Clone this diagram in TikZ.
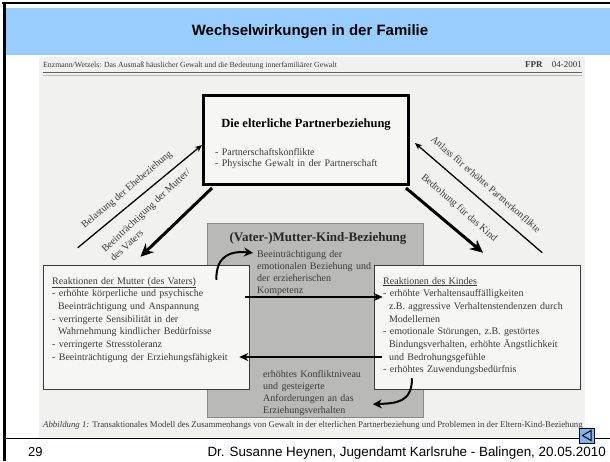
\documentclass[tikz,border=0pt]{standalone}
\usepackage{fontspec}
\setmainfont{Liberation Sans}
\newfontfamily\scanserif{Liberation Serif}
\usetikzlibrary{arrows.meta,calc}
\definecolor{fBand}{HTML}{99CCFF}
\definecolor{fPaper}{HTML}{F1F1EE}
\definecolor{fBoxFill}{HTML}{F6F6F4}
\definecolor{fShade}{HTML}{B9B9B7}
\definecolor{fInk}{HTML}{3A3A3A}
\definecolor{fIcon}{HTML}{80B4EC}

\begin{document}
\begin{tikzpicture}[x=1pt,y=-1pt,
  every node/.style={inner sep=0pt},
  scan/.style={font=\scanserif\fontsize{10}{12.7}\selectfont,text=fInk,align=left},
  pframe/.style={draw=black,line width=3pt,fill=fBoxFill,minimum width=205,minimum height=89},
  rframe/.style={draw=fInk,line width=1.5pt,fill=fBoxFill,minimum width=206,minimum height=124},
  gframe/.style={draw=fInk!60,line width=0.8pt,fill=fShade,minimum width=216,minimum height=194},
  thinarr/.style={-{Stealth[length=7pt,width=6pt]},line width=1.3pt},
  thickarr/.style={-{Stealth[length=13pt,width=12pt]},line width=3pt},
  midarr/.style={-{Stealth[length=9pt,width=8pt]},line width=1.8pt},
  curvarr/.style={-{Stealth[length=9pt,width=9pt]},line width=2pt}
]
\useasboundingbox (0,0) rectangle (610,461);
% slide frame
\fill[white] (0,0) rectangle (610,461);
\fill[fBand] (5,8) rectangle (610,55);
\draw[line width=2pt] (2,2.5) -- (610,2.5);
\draw[line width=2.5pt] (4.5,2.5) -- (4.5,461);
\fill[fPaper] (39,57) rectangle (585,437);
\draw[line width=1pt] (4.5,438) -- (610,438);

\node[font=\bfseries\fontsize{15}{18}\selectfont] (title) at (310,32) {Wechselwirkungen in der Familie};

% scanned figure
\node[scan,font=\scanserif\fontsize{7.8}{10}\selectfont,anchor=base west] (head) at (43,67)
  {Enzmann/Wetzels: Das Ausmaß häuslicher Gewalt und die Bedeutung innerfamiliärer Gewalt};
\node[scan,font=\scanserif\fontsize{9}{10}\selectfont,anchor=base east] (fpr) at (582,67) {\textbf{FPR}\quad 04-2001};
\draw[fInk!80,line width=0.9pt] (43,72.5) -- (582,72.5);
\draw[fInk!35,line width=0.6pt] (43,75) -- (582,75);

\node[gframe] (gbox) at (315,320) {};
\node[pframe] (pbox) at (306,140) {};
\node[rframe] (mbox) at (146.5,327.5) {};
\node[rframe] (kbox) at (477.5,327.5) {};

\node[scan,font=\scanserif\bfseries\fontsize{12.5}{15}\selectfont,text=black,anchor=base] (ptitle) at (306,127) {Die elterliche Partnerbeziehung};
\node[scan,text width=190,anchor=base west,font=\scanserif\fontsize{10}{11.5}\selectfont] (ptext) at (215,155)
  {- Partnerschaftskonflikte\\- Physische Gewalt in der Partnerschaft};

\node[scan,font=\scanserif\bfseries\fontsize{13}{15}\selectfont,text=black!85,anchor=base] (gtitle) at (318,241) {(Vater-)Mutter-Kind-Beziehung};
\node[scan,text width=120,anchor=base west,font=\scanserif\fontsize{10}{12.3}\selectfont] (btext) at (257,257)
  {Beeinträchtigung der\\emotionalen Beziehung und\\der erzieherischen\\Kompetenz};
\node[scan,text width=120,anchor=base west,font=\scanserif\fontsize{10}{12.3}\selectfont] (ctext) at (263,377)
  {erhöhtes Konfliktniveau\\und gesteigerte\\Anforderungen an das\\Erziehungsverhalten};

\node[scan,text width=200,anchor=base west] (mtext) at (52,284)
  {\underline{Reaktionen der Mutter (des Vaters)}\\
   - erhöhte körperliche und psychische\\
   \hspace*{0.58em}Beeinträchtigung und Anspannung\\
   - verringerte Sensibilität in der\\
   \hspace*{0.58em}Wahrnehmung kindlicher Bedürfnisse\\
   - verringerte Stresstoleranz\\
   - Beeinträchtigung der Erziehungsfähigkeit};
\node[scan,text width=195,anchor=base west] (ktext) at (383,284)
  {\underline{Reaktionen des Kindes}\\
   - erhöhte Verhaltensauffälligkeiten\\
   \hspace*{0.58em}z.B. aggressive Verhaltenstendenzen durch\\
   \hspace*{0.58em}Modellernen\\
   - emotionale Störungen, z.B. gestörtes\\
   \hspace*{0.58em}Bindungsverhalten, erhöhte Ängstlichkeit\\
   \hspace*{0.58em}und Bedrohungsgefühle\\
   - erhöhtes Zuwendungsbedürfnis};

% diagonal arrows
\draw[thinarr] ([shift={(35,-17)}]mbox.north west) -- ([yshift=-5pt]pbox.west);
\draw[thickarr] ([shift={(10,2)}]pbox.south west) -- ([shift={(-6,-8)}]mbox.north);
\draw[thinarr] ([shift={(-39,-12)}]kbox.north east) -- ([shift={(5,3)}]pbox.east);
\draw[thickarr] ([shift={(-4,2)}]pbox.south east) -- ([shift={(5.5,-12)}]kbox.north);

\node[scan,rotate=40] (lab1) at (127,190) {Belastung der Ehebeziehung};
\node[scan,rotate=43] (lab2) at (150,215) {Beeinträchtigung der Mutter/\\des Vaters};
\node[scan,rotate=-41] (lab3) at (486,184) {Anlass für erhöhte Partnerkonflikte};
\node[scan,rotate=-41] (lab4) at (459,208) {Bedrohung für das Kind};

% horizontal arrows
\draw[midarr] ([shift={(-5,-30.5)}]mbox.east) -- ([shift={(9,-30.5)}]kbox.west);
\draw[midarr] ([shift={(8,29.5)}]kbox.west) -- ([shift={(-11,29.5)}]mbox.east);

% curved arrows
\draw[curvarr] ([shift={(-34,15)}]mbox.north east) .. controls +(0,-25) and +(-22,-2) .. ([xshift=-4pt,yshift=-3pt]btext.north west);
\draw[curvarr] ([shift={(-65.5,-12)}]kbox.south) .. controls +(0,24) and +(24,-1) .. ([shift={(-1,14)}]kbox.south west);

\node[scan,font=\scanserif\fontsize{8.8}{10}\selectfont,anchor=base west] (cap) at (43,427)
  {\textit{Abbildung 1:} Transaktionales Modell des Zusammenhangs von Gewalt in der elterlichen Partnerbeziehung und Problemen in der Eltern-Kind-Beziehung};

% footer
\node[draw=black,fill=fIcon,line width=1pt,minimum size=15] (back) at (587,435.5) {};
\draw[line width=1pt] ([shift={(4,-5)}]back.center) -- ([shift={(-4.5,0)}]back.center) -- ([shift={(4,5)}]back.center) -- cycle;
\node[font=\fontsize{13}{15}\selectfont,anchor=base west] (page) at (28,456) {29};
\node[font=\fontsize{13.4}{15}\selectfont,anchor=base east] (foot) at (606,456) {Dr. Susanne Heynen, Jugendamt Karlsruhe - Balingen, 20.05.2010};
\end{tikzpicture}
\end{document}
